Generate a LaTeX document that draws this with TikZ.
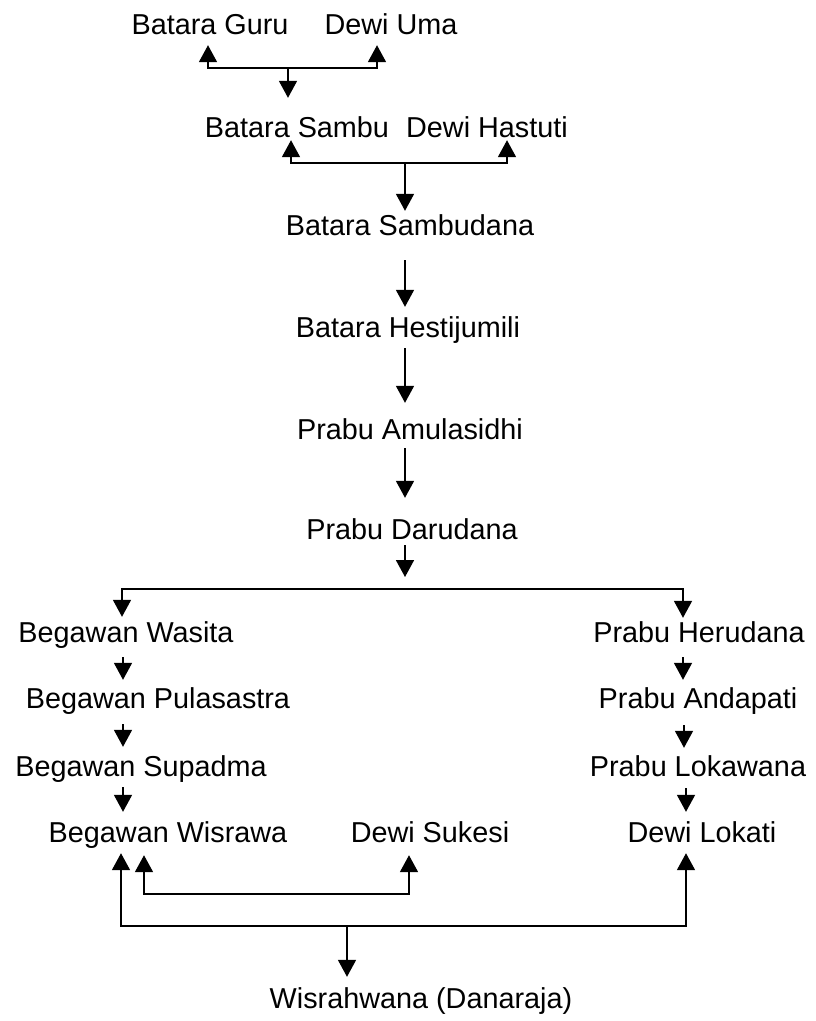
\documentclass[tikz,border=0pt]{standalone}
\usepackage{fontspec}
\setmainfont{Liberation Sans}
\usepackage{tikz}
\usetikzlibrary{arrows.meta,calc}

\tikzset{
  person/.style={font=\fontsize{28.8}{30}\selectfont, inner sep=0pt, text height=21pt, text depth=6pt, anchor=base},
  link/.style={line width=1.8pt, -{Triangle[width=18pt,length=17pt]}},
}

\begin{document}
\begin{tikzpicture}[x=1pt,y=-1pt]
  \useasboundingbox (0,0) rectangle (815,1021); % 図全体の大きさ
  % 人物名
  \node[person] (guru) at (210,34) {Batara Guru};
  \node[person] (uma) at (391,34) {Dewi Uma};
  \node[person] (sambu) at (297,137) {Batara Sambu};
  \node[person] (hastuti) at (487,137) {Dewi Hastuti};
  \node[person] (sambudana) at (410,235) {Batara Sambudana};
  \node[person] (hesti) at (408,337) {Batara Hestijumili};
  \node[person] (amula) at (410,439) {Prabu Amulasidhi};
  \node[person] (daru) at (412,539) {Prabu Darudana};
  \node[person] (wasita) at (126,642) {Begawan Wasita};
  \node[person] (pulasastra) at (158,708) {Begawan Pulasastra};
  \node[person] (supadma) at (141,776) {Begawan Supadma};
  \node[person] (wisrawa) at (168,842) {Begawan Wisrawa};
  \node[person] (sukesi) at (430,842) {Dewi Sukesi};
  \node[person] (herudana) at (699,642) {Prabu Herudana};
  \node[person] (andapati) at (698,708) {Prabu Andapati};
  \node[person] (lokawana) at (698,776) {Prabu Lokawana};
  \node[person] (lokati) at (702,842) {Dewi Lokati};
  \node[person] (wisrahwana) at (421,1008) {Wisrahwana (Danaraja)};
  % 夫婦を結ぶ線の分岐点
  \coordinate (m1) at (288,68);
  \coordinate (m2) at (405,163);
  \coordinate (split) at (405,589);
  \coordinate (m3) at (276,894);
  \coordinate (m4) at (347,926);
  % Batara Guru と Dewi Uma
  \draw[link] (m1) -| ([xshift=-2pt,yshift=-5pt]guru.south);
  \draw[link] (m1) -| ([xshift=-14pt,yshift=-5pt]uma.south);
  \draw[link, shorten >=18pt] (m1) -- (m1 |- sambu.north);
  % Batara Sambu と Dewi Hastuti
  \draw[link] (m2) -| ([xshift=-6pt,yshift=3pt]sambu.south);
  \draw[link] (m2) -| ([xshift=20pt,yshift=3pt]hastuti.south);
  \draw[link, shorten >=3pt] (m2) -- (m2 |- sambudana.north);
  % 中央の系統
  \draw[link] ([xshift=-5pt,yshift=-19pt]sambudana.south) -- ([xshift=-3pt,yshift=9pt]hesti.north);
  \draw[link] ([xshift=-3pt,yshift=-5pt]hesti.south) -- ([xshift=-5pt,yshift=15pt]amula.north);
  \draw[link] ([xshift=-5pt,yshift=-3pt]amula.south) -- ([xshift=-7pt,yshift=20pt]daru.north);
  \draw[link] ([xshift=-7pt]daru.south) -- ([yshift=12pt]split);
  \draw[link] (split) -| ([xshift=-4pt,yshift=4pt]wasita.north);
  \draw[link] (split) -| ([xshift=-16pt,yshift=3pt]herudana.north);
  % 左の系統
  \draw[link] ([xshift=-3pt,yshift=-9pt]wasita.south) -- ([xshift=-35pt,yshift=7pt]pulasastra.north);
  \draw[link] ([xshift=-35pt,yshift=-10pt]pulasastra.south) -- ([xshift=-18pt,yshift=8pt]supadma.north);
  \draw[link] ([xshift=-18pt,yshift=-5pt]supadma.south) -- ([xshift=-45pt,yshift=9pt]wisrawa.north);
  % 右の系統
  \draw[link] ([xshift=-16pt,yshift=-9pt]herudana.south) -- ([xshift=-15pt,yshift=7pt]andapati.north);
  \draw[link] ([xshift=-14pt,yshift=-11pt]andapati.south) -- ([xshift=-14pt,yshift=7pt]lokawana.north);
  \draw[link] ([xshift=-12pt,yshift=-6pt]lokawana.south) -- ([xshift=-16pt,yshift=9pt]lokati.north);
  % Begawan Wisrawa と Dewi Sukesi
  \draw[link] (m3) -| ([xshift=-24pt,yshift=-7pt]wisrawa.south);
  \draw[link] (m3) -| ([xshift=-21pt,yshift=-7pt]sukesi.south);
  % Begawan Wisrawa と Dewi Lokati
  \draw[link] (m4) -| ([xshift=-47pt,yshift=-5pt]wisrawa.south);
  \draw[link] (m4) -| ([xshift=-16pt,yshift=-5pt]lokati.south);
  \draw[link, shorten >=10pt] (m4) -- (m4 |- wisrahwana.north);
\end{tikzpicture}
\end{document}
